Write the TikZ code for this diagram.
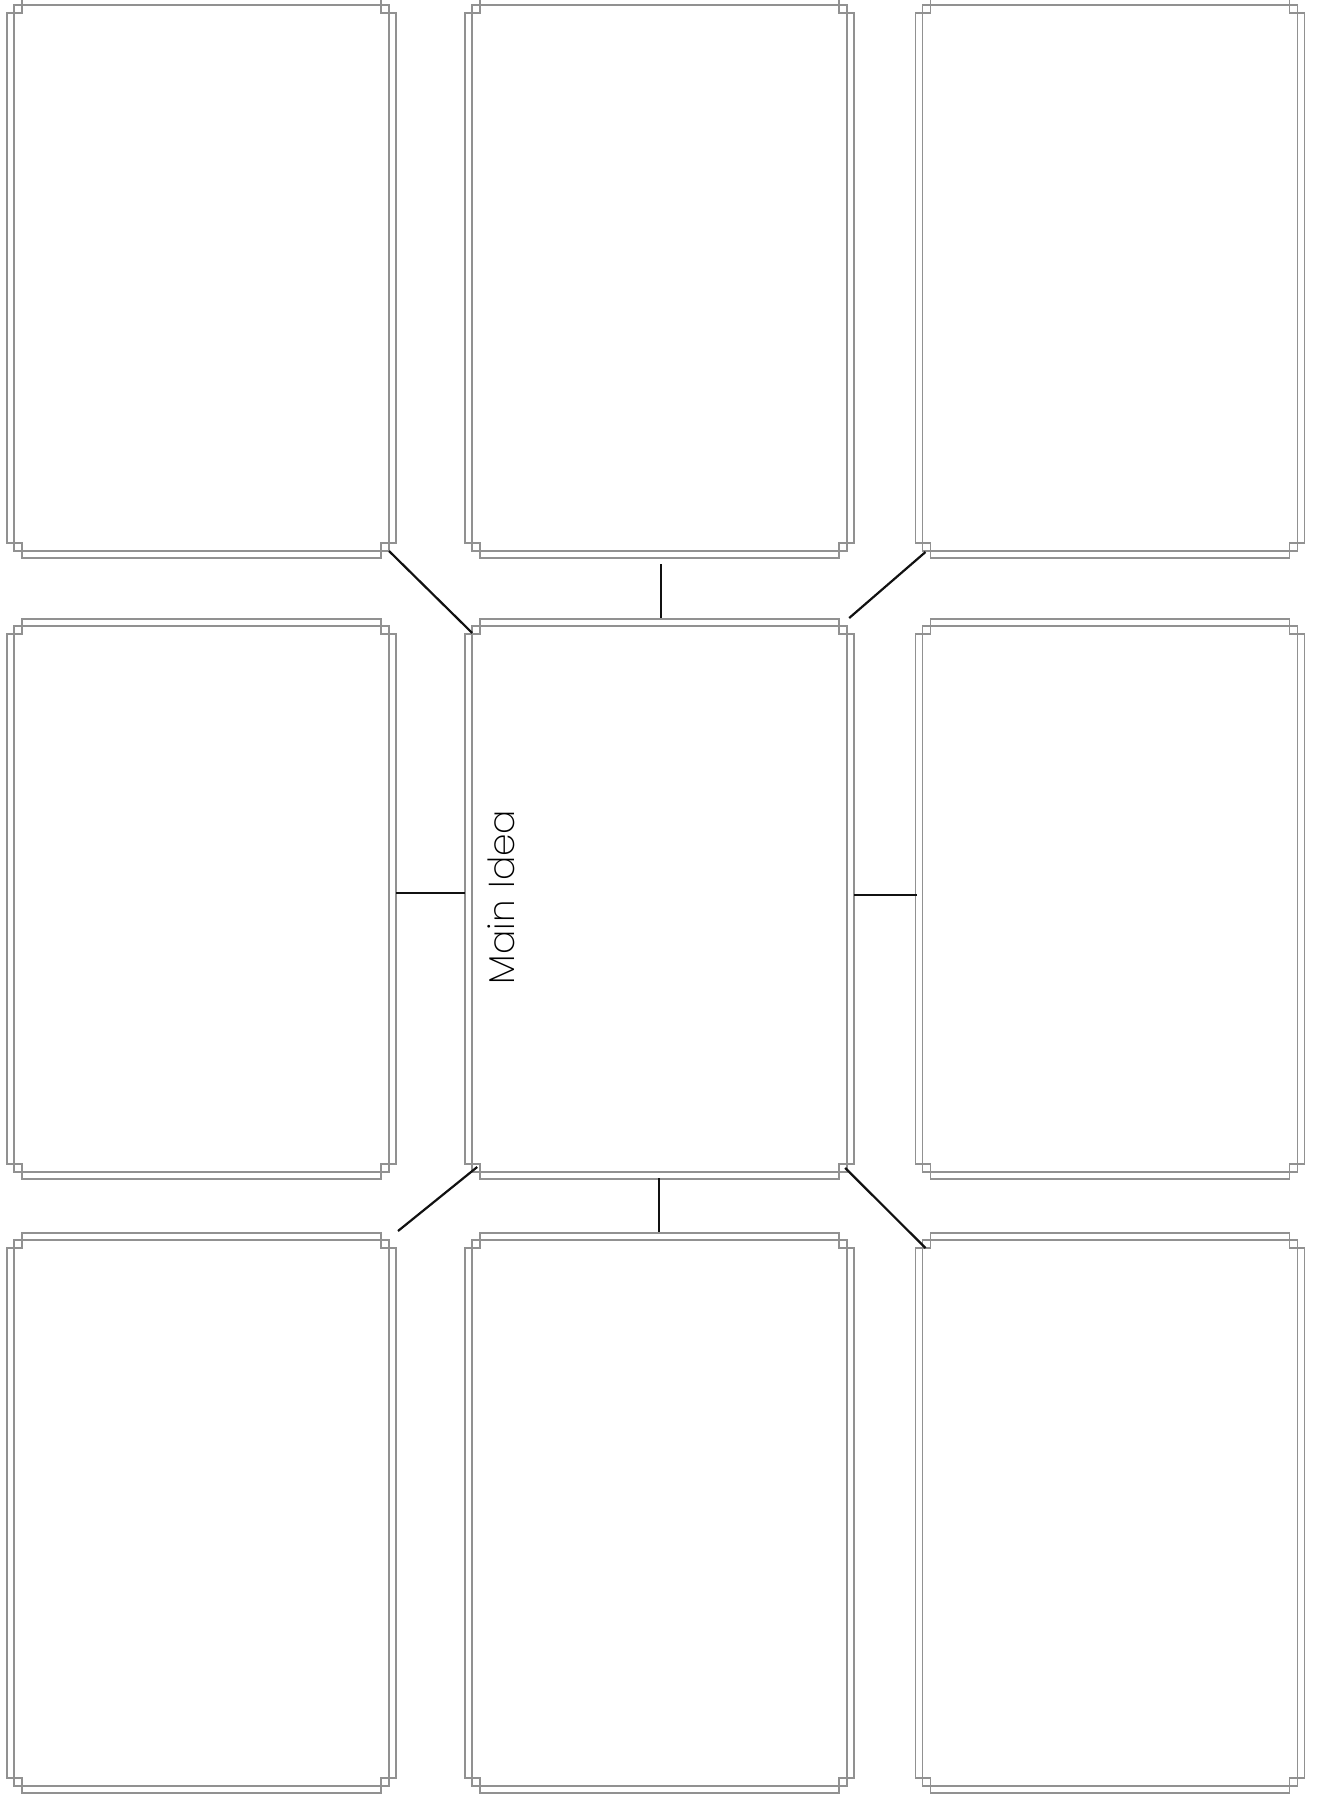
\documentclass[tikz,border=0pt]{standalone}
\usepackage{xcolor}
\usepackage{fontspec}
\usepackage{tikz}
\usetikzlibrary{calc,positioning}
\newfontfamily\ideafont{Poppins ExtraLight}
\definecolor{FrameGray}{HTML}{919191}
\definecolor{LinkInk}{HTML}{111111}

\begin{document}
\begin{tikzpicture}[x=0.5pt, y=-0.5pt,
  cell/.style={draw=FrameGray, line width=0.9pt, minimum width=187.5pt, minimum height=273pt, inner sep=0pt, outer sep=0pt},
  frame/.style={draw=FrameGray, line width=0.9pt},
  link/.style={draw=LinkInk, line width=1.1pt},
  idealabel/.style={font=\ideafont\fontsize{18}{22}\selectfont, text=black, rotate=90, anchor=base}]

\useasboundingbox (0,0) rectangle (1316,1802);

% inner boxes (3 x 3)
\node[cell] (tl) at (201.5,278) {};
\node[cell] (tc) at (659.7,278) {};
\node[cell] (tr) at (1110,278) {};
\node[cell] (ml) at (201.5,899) {};
\node[cell] (idea) at (659.7,899) {};
\node[cell] (mr) at (1110,899) {};
\node[cell] (bl) at (201.5,1513) {};
\node[cell] (bc) at (659.7,1513) {};
\node[cell] (br) at (1110,1513) {};

% outer frames with notched corners
\foreach \b in {tl,tc,tr,ml,idea,mr,bl,bc,br}{
  \draw[frame] ($(\b.north west)+(8,-7)$) -- ($(\b.north east)+(-8,-7)$)
    -- ($(\b.north east)+(-8,8)$) -- ($(\b.north east)+(7,8)$)
    -- ($(\b.south east)+(7,-8)$) -- ($(\b.south east)+(-8,-8)$)
    -- ($(\b.south east)+(-8,7)$) -- ($(\b.south west)+(8,7)$)
    -- ($(\b.south west)+(8,-8)$) -- ($(\b.south west)+(-7,-8)$)
    -- ($(\b.north west)+(-7,8)$) -- ($(\b.north west)+(8,8)$) -- cycle;
}

% label
\node[idealabel] (ideatext) at (514,897) {Main\,\,Idea};

% connectors to the main idea
\draw[link] (tl.south east) -- ($(idea.north west)+(0,7)$);
\draw[link] ($(tc.south)+(1,13)$) -- ($(idea.north)+(1,-8)$);
\draw[link] ($(tr.south west)+(3,1)$) -- ($(idea.north east)+(2,-8)$);
\draw[link] ($(ml.east)+(7,-6)$) -- ($(idea.west)+(-7,-6)$);
\draw[link] ($(idea.east)+(7,-4)$) -- ($(mr.east)+(-381,-4)$);
\draw[link] ($(bl.north east)+(9,-9)$) -- ($(idea.south west)+(5,-5)$);
\draw[link] ($(idea.south)+(-1,6)$) -- ($(bc.north)+(-1,-8)$);
\draw[link] ($(idea.south east)+(-2,-4)$) -- ($(br.north west)+(3,8)$);
\end{tikzpicture}
\end{document}
